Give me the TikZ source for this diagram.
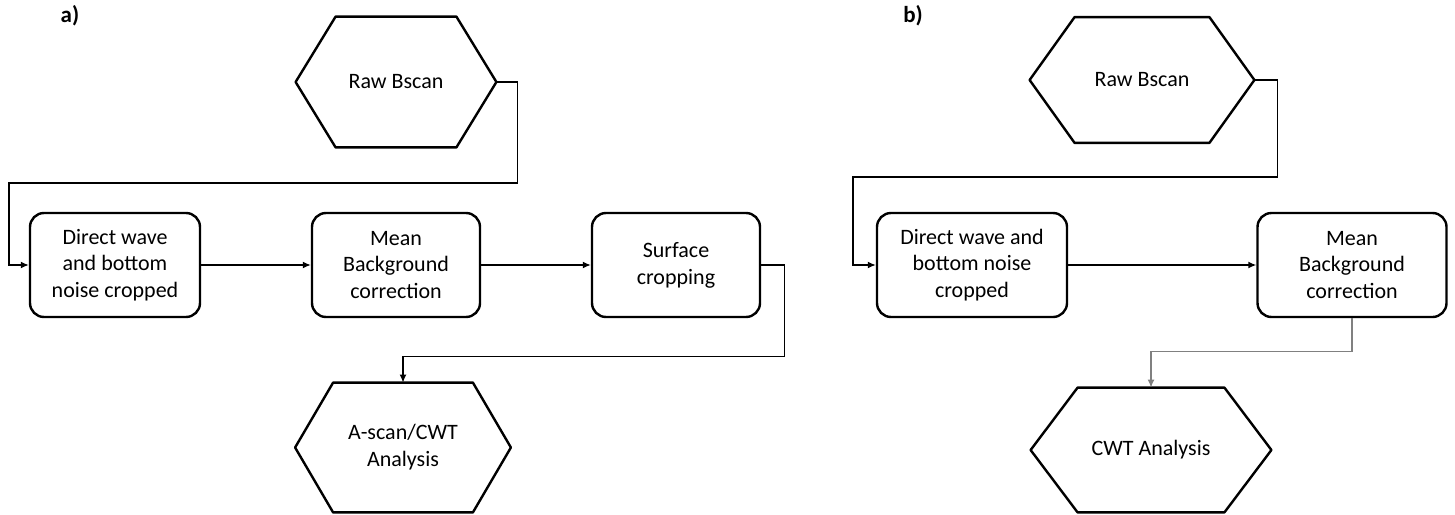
\documentclass[tikz,border=0pt]{standalone}
\usepackage{fontspec}
\setmainfont{Carlito}
\usetikzlibrary{arrows.meta}

% contorno hexagonal alrededor de un nodo
\newcommand{\hexmarco}[2]{%
  \draw[line width=1.2pt, line join=round] (#1.west) -- ([xshift=#2]#1.north west) -- ([xshift=-#2]#1.north east)
    -- (#1.east) -- ([xshift=-#2]#1.south east) -- ([xshift=#2]#1.south west) -- cycle;}

\tikzset{
  paso/.style={draw, line width=1.2pt, rounded corners=7pt, align=center, inner sep=0pt,
    minimum height=52pt, font=\fontsize{11}{13.4}\selectfont},
  hexa/.style={align=center, inner sep=0pt, font=\fontsize{11}{13.4}\selectfont},
  flecha/.style={line width=0.7pt, -{Latex[length=4pt,width=3.5pt]}},
  etiqueta/.style={font=\fontsize{11.5}{13}\selectfont\bfseries}
}

\begin{document}
\begin{tikzpicture}[x=0.5pt,y=-0.5pt]
    \useasboundingbox (0,0) rectangle (1455,514);

    % panel a
    \node[etiqueta] (etqA) at (70,16) {a)};
    \node[hexa, minimum width=100pt, minimum height=65pt] (rawA) at (396,82) {Raw Bscan};
    \hexmarco{rawA}{20pt}

    \node[paso, minimum width=85pt] (cropA) at (115,265) {Direct wave\\and bottom\\noise cropped};
    \node[paso, minimum width=84pt] (meanA) at (396,265) {Mean\\Background\\correction};
    \node[paso, minimum width=84pt] (surfA) at (676,265) {Surface\\cropping};

    \node[hexa, minimum width=107.5pt, minimum height=64.5pt] (scanA) at (403,447.5) {A-scan/CWT\\Analysis};
    \hexmarco{scanA}{19pt}

    \coordinate (codoA) at (9,183);
    \draw[flecha] (rawA.east) -- ++(21,0) |- (codoA) |- (cropA.west);
    \draw[flecha] (cropA) -- (meanA);
    \draw[flecha] (meanA) -- (surfA);
    \draw[flecha] (surfA.east) -- ++(23,0) |- ([yshift=13pt]scanA.north) -- (scanA.north);

    % panel b
    \node[etiqueta] (etqB) at (913,16) {b)};
    \node[hexa, minimum width=112pt, minimum height=62.5pt] (rawB) at (1142,80) {Raw Bscan};
    \hexmarco{rawB}{22.5pt}

    \node[paso, minimum width=95pt] (cropB) at (972,265) {Direct wave and\\bottom noise\\cropped};
    \node[paso, minimum width=94.5pt] (meanB) at (1352,265) {Mean\\Background\\correction};

    \node[hexa, minimum width=120pt, minimum height=62pt] (cwtB) at (1151,450) {CWT Analysis};
    \hexmarco{cwtB}{23.5pt}

    \coordinate (codoB) at (853,177);
    \draw[flecha] (rawB.east) -- ++(23,0) |- (codoB) |- (cropB.west);
    \draw[flecha] (cropB) -- (meanB);
    \draw[flecha, gray] (meanB.south) |- ([yshift=18pt]cwtB.north) -- (cwtB.north);

\end{tikzpicture}
\end{document}
